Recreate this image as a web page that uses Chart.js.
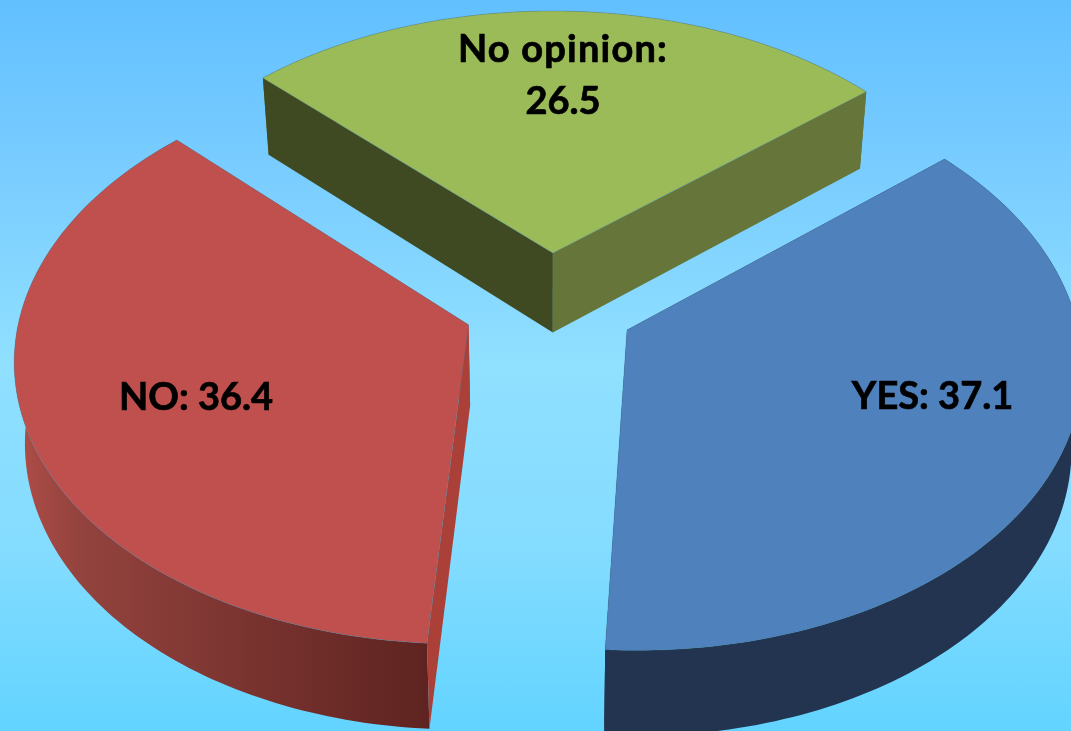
<!DOCTYPE html>
<html>
<head>
<meta charset="utf-8">
<title>Poll</title>
<script src="https://cdn.jsdelivr.net/npm/chart.js@4"></script>
<style>
html,body{margin:0;padding:0;width:1071px;height:731px;overflow:hidden;
  background:linear-gradient(180deg,#62c0ff 0%,#78ccff 22%,#90e0ff 50%,#84dcff 75%,#62d4ff 100%)}
canvas{display:block}
</style>
</head>
<body>
<canvas id="myChart" width="1071" height="731"></canvas>
<script>
const categories = ["YES", "NO", "No opinion"]
const valores = [37.1, 36.4, 26.5]

const topColors = ["#4f81bd", "#c0504d", "#9bbb59"]
const wallFar = ["#22344f", "#b04d48", "#66763a"]
const wallLeft = ["#22344f", "#94433e", "#66763a"]
const wallRight = ["#22344f", "#5e2320", "#66763a"]
const edgeStart = ["#22344f", "#ab4039", "#3f4a22"]
const edgeEnd = ["#22344f", "#ab4039", "#66763a"]

// camera over the pie plane, u to the right and v to the viewer
const cam = {cx: 549.5, cy: 305.5, f: 447, squash: 0.625, k: 0.11, depth: 80.5, shrink: 0.02}
const explode = 0.1925

function project(u, v, z){
    const w = 1 - cam.k * v
    let x = cam.cx + cam.f * u / w
    let y = cam.cy + cam.f * cam.squash * v / w
    if(z){
        y += cam.depth / Math.sqrt(w)
        x = cam.cx + (x - cam.cx) * (1 - cam.shrink)
    }
    return [x, y]
}

function slicePoints(arc){
    const mid = (arc.startAngle + arc.endAngle) / 2
    const ou = explode * Math.cos(mid)
    const ov = explode * Math.sin(mid)
    const rim = []
    const pasos = 120
    for(let i = 0; i <= pasos; i++){
        const a = arc.startAngle + (arc.endAngle - arc.startAngle) * i / pasos
        rim.push([ou + Math.cos(a), ov + Math.sin(a)])
    }
    return {apex: [ou, ov], rim}
}

// one closed shape: the points on top, then the same points at the bottom in reverse
function fillWall(ctx, pts, color){
    const lower = pts.map(p => project(p[0], p[1], 1)).reverse()
    const upper = pts.map(p => project(p[0], p[1], 0))
    ctx.beginPath()
    upper.concat(lower).forEach((q, i) => {
        if(i == 0) ctx.moveTo(q[0], q[1])
        else ctx.lineTo(q[0], q[1])
    })
    ctx.closePath()
    ctx.fillStyle = color
    ctx.fill()
}

function meanV(pts){
    return pts.reduce((s, p) => s + p[1], 0) / pts.length
}

function drawSlice(ctx, arc, i){
    const {apex, rim} = slicePoints(arc)
    const grad = ctx.createLinearGradient(15, 0, 430, 0)
    grad.addColorStop(0, wallFar[i])
    grad.addColorStop(0.15, wallLeft[i])
    grad.addColorStop(1, wallRight[i])

    const walls = [
        {pts: rim, color: grad},
        {pts: [apex, rim[0]], color: edgeStart[i]},
        {pts: [apex, rim[rim.length - 1]], color: edgeEnd[i]}
    ]
    walls.sort((p, q) => meanV(p.pts) - meanV(q.pts))
    walls.forEach(w => fillWall(ctx, w.pts, w.color))

    ctx.beginPath()
    const inicio = project(apex[0], apex[1], 0)
    ctx.moveTo(inicio[0], inicio[1])
    rim.forEach(p => {
        const q = project(p[0], p[1], 0)
        ctx.lineTo(q[0], q[1])
    })
    ctx.closePath()
    ctx.fillStyle = topColors[i]
    ctx.fill()
    ctx.strokeStyle = "rgba(70,120,150,0.45)"
    ctx.lineWidth = 0.8
    ctx.stroke()
}

const pie3d = {
    id: "pie3d",
    beforeDatasetDraw(chart, args){
        const ctx = chart.ctx
        const arcs = args.meta.data.map((arc, i) => ({arc, i}))
        arcs.sort((p, q) => Math.sin((p.arc.startAngle + p.arc.endAngle) / 2) - Math.sin((q.arc.startAngle + q.arc.endAngle) / 2))
        ctx.save()
        arcs.forEach(o => drawSlice(ctx, o.arc, o.i))
        ctx.restore()
        return false
    },
    afterDraw(chart){
        const ctx = chart.ctx
        ctx.save()
        ctx.fillStyle = "#000"
        ctx.strokeStyle = "#000"
        ctx.lineWidth = 0.7
        ctx.font = "bold 38px Lato"
        ctx.textAlign = "center"
        ctx.textBaseline = "alphabetic"
        const texto = (s, x, y) => {
            ctx.fillText(s, x, y)
            ctx.strokeText(s, x, y)
        }
        texto(categories[0] + ": " + valores[0], 932.5, 409)
        texto(categories[1] + ": " + valores[1], 196, 410)
        texto(String(valores[2]), 563, 114)
        ctx.letterSpacing = "1.2px"
        texto(categories[2] + ":", 563, 62)
        ctx.restore()
    }
}

new Chart(document.getElementById("myChart"), {
    type: "pie",
    data: {
        labels: categories,
        datasets: [{data: valores, backgroundColor: topColors, borderWidth: 0}]
    },
    options: {
        responsive: false,
        animation: false,
        rotation: 50,
        plugins: {legend: {display: false}, tooltip: {enabled: false}}
    },
    plugins: [pie3d]
})
</script>
</body>
</html>
